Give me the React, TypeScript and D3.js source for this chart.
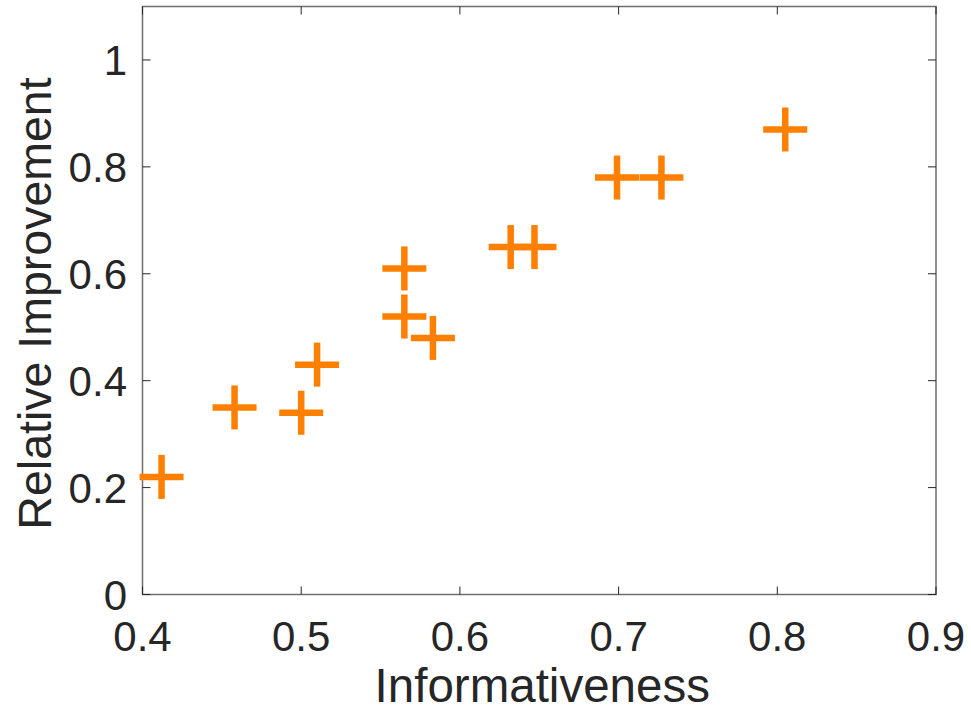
import React from 'react';
import * as d3 from 'd3';

// values
const informativeness = [0.412, 0.458, 0.5, 0.51, 0.565, 0.565, 0.583, 0.632, 0.647, 0.699, 0.727, 0.805];
const improvement = [0.22, 0.35, 0.34, 0.43, 0.61, 0.52, 0.48, 0.65, 0.65, 0.78, 0.78, 0.87];
const xTicks = [0.4, 0.5, 0.6, 0.7, 0.8, 0.9];
const yTicks = [0, 0.2, 0.4, 0.6, 0.8, 1];

const W = 971, H = 713;
const margin = { top: 6.5, right: 35, bottom: 118.5, left: 142.5 };
const font = '"Liberation Sans", Arial, Helvetica, sans-serif';
const ink = '#262626';
const orange = '#FF8000';

const App = () => {
  const x = d3.scaleLinear().domain([0.4, 0.9]).range([margin.left, W - margin.right]);
  const y = d3.scaleLinear().domain([0, 1.1]).range([H - margin.bottom, margin.top]);
  const [x0, x1] = x.range();
  const [y0, y1] = y.range();
  const tick = 8;
  const arm = 22;
  const fmt = (v: number) => (v === 0 || v === 1 ? String(v) : v.toFixed(1));

  return (
    <svg width={W} height={H} style={{ position: 'absolute', left: 0, top: 0, background: '#fff' }}>
      <rect x={x0} y={y1} width={x1 - x0} height={y0 - y1} fill="#fff" stroke="#6e6e6e" strokeWidth={1.5} />
      {xTicks.map((t) => (
        <g key={'x' + t}>
          <line x1={x(t)} x2={x(t)} y1={y0} y2={y0 - tick} stroke={ink} strokeWidth={1} />
          <line x1={x(t)} x2={x(t)} y1={y1} y2={y1 + tick} stroke={ink} strokeWidth={1} />
          <text x={x(t)} y={651} textAnchor="middle" fontFamily={font} fontSize={42} fill={ink}>
            {fmt(t)}
          </text>
        </g>
      ))}
      {yTicks.map((t) => (
        <g key={'y' + t}>
          <line x1={x0} x2={x0 + tick} y1={y(t)} y2={y(t)} stroke={ink} strokeWidth={1} />
          <line x1={x1} x2={x1 - tick} y1={y(t)} y2={y(t)} stroke={ink} strokeWidth={1} />
          <text x={127} y={y(t)} dy="0.36em" textAnchor="end" fontFamily={font} fontSize={42} fill={ink}>
            {fmt(t)}
          </text>
        </g>
      ))}
      {informativeness.map((v, i) => {
        const cx = x(v), cy = y(improvement[i]);
        return (
          <g key={'p' + i} stroke={orange} strokeWidth={6.5}>
            <line x1={cx - arm} x2={cx + arm} y1={cy} y2={cy} />
            <line x1={cx} x2={cx} y1={cy - arm} y2={cy + arm} />
          </g>
        );
      })}
      <text x={(x0 + x1) / 2 + 3} y={702} textAnchor="middle" fontFamily={font} fontSize={47.5} fill={ink}>
        Informativeness
      </text>
      <text
        transform={`translate(51,${(y0 + y1) / 2 + 3}) rotate(-90)`}
        textAnchor="middle"
        fontFamily={font}
        fontSize={46.5}
        fill={ink}
      >
        Relative Improvement
      </text>
    </svg>
  );
};

export default App;
